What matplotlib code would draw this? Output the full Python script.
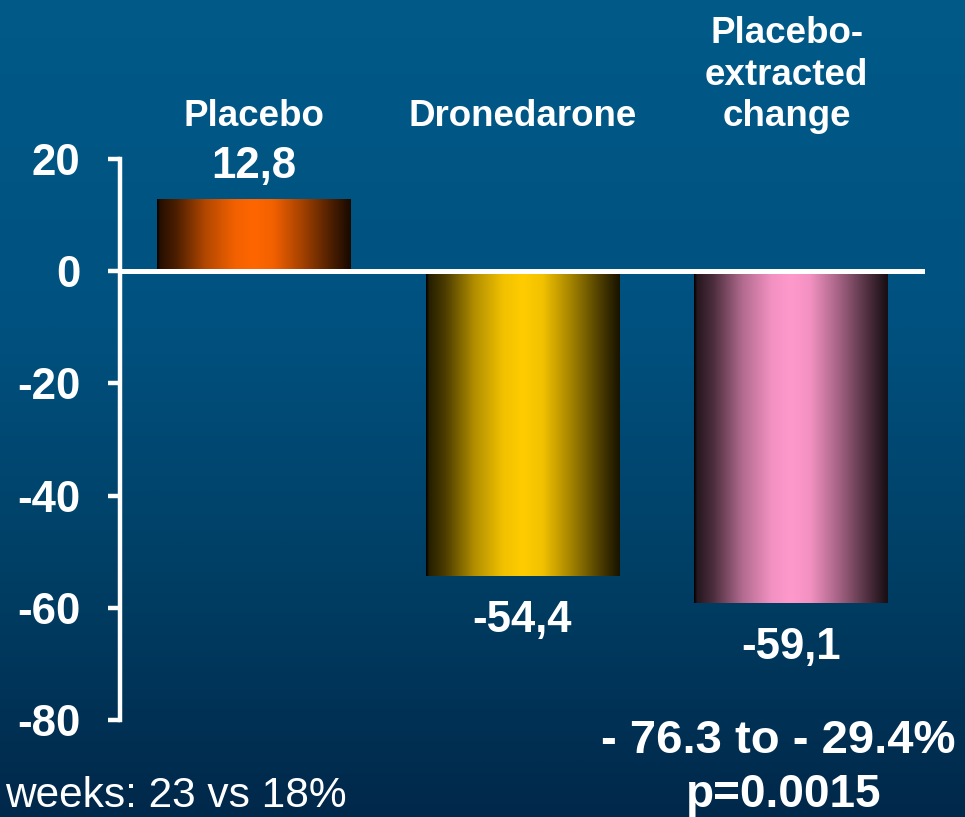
import numpy as np
import matplotlib
matplotlib.use("Agg")
import matplotlib.pyplot as plt
from matplotlib.colors import LinearSegmentedColormap, to_rgb

# Data
categories = ["Placebo", "Dronedarone", "Placebo-\nextracted\nchange"]
values = [12.8, -54.4, -59.1]
value_labels = ["12,8", "-54,4", "-59,1"]
bar_colors = ["#ff6600", "#ffcc00", "#ff99cc"]
yticks = [20, 0, -20, -40, -60, -80]
ci_text = "- 76.3 to - 29.4%"
p_text = "p=0.0015"
note_text = "weeks: 23 vs 18%"

plt.rcParams["font.family"] = ["Liberation Sans", "DejaVu Sans"]
plt.rcParams["font.weight"] = "bold"

W, H = 965, 817
fig = plt.figure(figsize=(W / 100, H / 100), dpi=100)

# Background: vertical blue gradient
bg = fig.add_axes([0, 0, 1, 1], zorder=-10)
bg_cmap = LinearSegmentedColormap.from_list(
    "bg", [(0.0, "#005a88"), (0.4, "#00517f"), (0.7, "#003f65"), (1.0, "#00284a")])
grad = np.linspace(0, 1, 512).reshape(-1, 1)
bg.imshow(grad, cmap=bg_cmap, aspect="auto", extent=[0, 1, 0, 1], origin="upper")
bg.set_axis_off()

# Main axes
ax = fig.add_axes([119.5 / W, (H - 720) / H, (925 - 119.5) / W, (720 - 159) / H])
ax.patch.set_alpha(0)
ax.set_xlim(-0.5, 2.5)
ax.set_ylim(-80, 20)

x = np.arange(len(values))
bars = ax.bar(x, values, width=0.72, color="none", edgecolor="none", zorder=2)

# Cylindrical shading across each bar
t_pts = [0, 0.015, 0.1, 0.25, 0.4, 0.5, 0.6, 0.75, 0.9, 0.985, 1.0]
f_pts = [0.0, 0.15, 0.3, 0.7, 0.95, 1.0, 0.95, 0.64, 0.3, 0.12, 0.1]
tt = np.linspace(0, 1, 300)
shade = np.interp(tt, t_pts, f_pts)
for rect, col in zip(bars, bar_colors):
    base = np.array(to_rgb(col))
    img = (shade[:, None] * base[None, :])[None, :, :]
    x0, y0 = rect.get_x(), rect.get_y()
    w, h = rect.get_width(), rect.get_height()
    im = ax.imshow(img, extent=[x0, x0 + w, min(y0, y0 + h), max(y0, y0 + h)],
                   aspect="auto", zorder=2, interpolation="bilinear")
    im.set_clip_path(rect)

ax.axhline(0, color="white", lw=3.6, zorder=5)

# Axis styling
for s in ["top", "right", "bottom"]:
    ax.spines[s].set_visible(False)
ax.spines["left"].set_color("white")
ax.spines["left"].set_linewidth(3.2)
ax.set_xticks([])
ax.set_yticks(yticks)
ax.set_yticklabels([str(v) for v in yticks])
ax.tick_params(axis="y", direction="out", length=9, width=3.2, colors="white",
               pad=19, labelsize=31.5)
for lab in ax.get_yticklabels():
    lab.set_fontweight("bold")

# Category titles above the bars
label_x = [0, 1, 1.985]
line_step = 7.4
for xi, cat in zip(label_x, categories):
    lines = cat.split("\n")
    for k, line in enumerate(lines):
        yy = 25.8 + (len(lines) - 1 - k) * line_step
        ax.text(xi, yy, line, ha="center", va="baseline", color="white",
                fontsize=26.5, fontweight="bold", clip_on=False)

# Value labels
for xi, v, txt in zip(x, values, value_labels):
    yy = v + 3.8 if v > 0 else v - 10.0
    ax.text(xi, yy, txt, ha="center", va="baseline", color="white",
            fontsize=31.5, fontweight="bold", clip_on=False)

# Footer texts
fig.text(778 / W, 1 - 753 / H, ci_text, ha="center", va="baseline",
         color="white", fontsize=34, fontweight="bold")
fig.text(784 / W, 1 - 807 / H, p_text, ha="center", va="baseline",
         color="white", fontsize=33, fontweight="bold")
fig.text(5 / W, 1 - 807 / H, note_text, ha="left", va="baseline",
         color="white", fontsize=30.5, fontweight="normal")

fig.savefig("out.png", dpi=100)
